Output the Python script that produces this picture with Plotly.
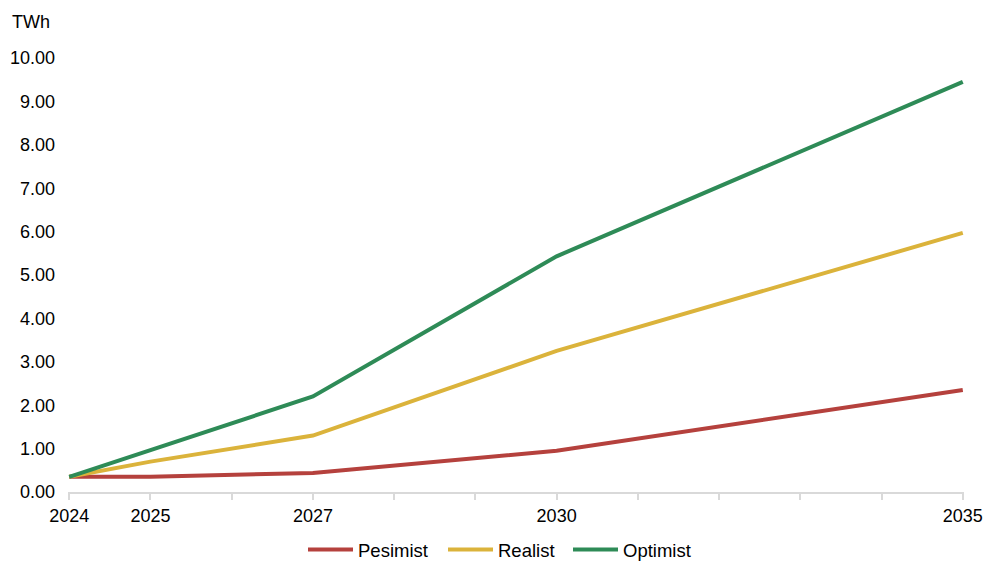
import plotly.graph_objects as go

years = [2024, 2025, 2027, 2030, 2035]
pesimist = [0.35, 0.35, 0.44, 0.95, 2.35]
realist = [0.35, 0.70, 1.30, 3.25, 5.97]
optimist = [0.35, 0.96, 2.20, 5.43, 9.45]

tick_years = list(range(2024, 2036))
tick_labels = [str(y) if y in years else "" for y in tick_years]
y_ticks = [0, 1, 2, 3, 4, 5, 6, 7, 8, 9, 10]
y_labels = [f"{v:.2f}" for v in y_ticks]

font = "Liberation Sans, Arial, sans-serif"

series = [("Pesimist", pesimist, "#b5413d", "legend", 303),
          ("Realist", realist, "#dbb33b", "legend2", 443),
          ("Optimist", optimist, "#2e8b57", "legend3", 568)]

fig = go.Figure()
legends = {}
for name, vals, col, lg, lx in series:
    fig.add_trace(go.Scatter(x=years, y=vals, name=name, mode="lines", legend=lg,
                             line=dict(color=col, width=4)))
    legends[lg] = dict(orientation="h", x=lx / 989, xanchor="left", xref="container",
                       y=11 / 561, yanchor="middle", yref="container",
                       font=dict(size=18.5), itemwidth=45, bgcolor="rgba(0,0,0,0)")

fig.update_layout(
    width=989, height=561,
    margin=dict(l=68, r=25, t=58, b=69),
    plot_bgcolor="white", paper_bgcolor="white",
    font=dict(family=font, size=18, color="#000000"),
    showlegend=True,
    xaxis=dict(range=[2023.985, 2035.015], tickmode="array", tickvals=tick_years,
               ticktext=tick_labels, showgrid=False, zeroline=False,
               showline=True, linecolor="#d9d9d9", linewidth=2,
               ticks="outside", ticklen=6, tickcolor="#d9d9d9", tickwidth=2,
               automargin=False),
    yaxis=dict(range=[0, 10], tickmode="array", tickvals=y_ticks, ticktext=y_labels,
               showgrid=False, zeroline=False, showline=False, ticks="",
               ticklabelstandoff=12, automargin=False),
    annotations=[dict(text="TWh", xref="paper", yref="paper", x=-58/896, y=1 + 36/434,
                      xanchor="left", yanchor="middle", showarrow=False,
                      font=dict(size=18))],
    **legends,
)

fig.write_html("out.html", config={"displayModeBar": False},
               post_script="document.body.style.margin='0';document.body.style.overflow='hidden';")
